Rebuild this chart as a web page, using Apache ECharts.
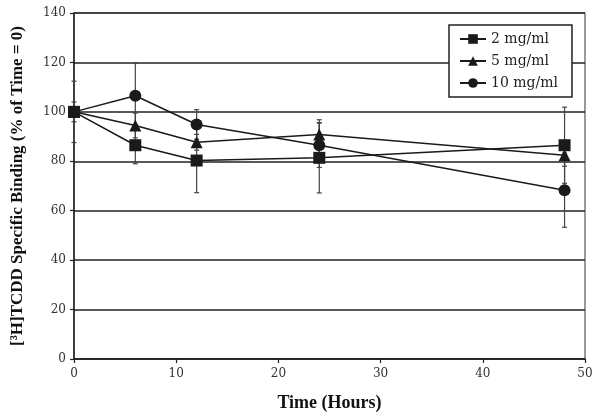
<!DOCTYPE html>
<html>
<head>
<meta charset="utf-8">
<script src="https://cdn.jsdelivr.net/npm/echarts@6/dist/echarts.min.js"></script>
<style>html,body{margin:0;padding:0;background:#fff}#c{width:600px;height:419px}</style>
</head>
<body>
<div id="c"></div>
<script>
var hours = [0, 6, 12, 24, 48];
var seriesNames = ['2 mg/ml', '5 mg/ml', '10 mg/ml'];
var val2 = [100, 86.5, 80.3, 81.4, 86.5];
var err2 = [0, 7.5, 13, 14.2, 15.4];
var val5 = [100, 94.5, 87.7, 90.8, 82.4];
var err5 = [4, 5, 3.2, 6, 4.4];
var val10 = [100, 106.5, 94.9, 86.5, 68.3];
var err10 = [12.4, 13.3, 6, 9, 15];
var yTicks = [0, 20, 40, 60, 80, 100, 120, 140];
var xTicks = [0, 10, 20, 30, 40, 50];

var vals = [val2, val5, val10];
var errs = [err2, err5, err10];
var symbols = ['rect', 'triangle', 'circle'];
var symSizes = [12, 12, 12];
var lineColor = '#1a1a1a';

function pts(v) { return hours.map(function (h, i) { return [h, v[i]]; }); }
function errData(v, e) { return hours.map(function (h, i) { return [h, v[i] - e[i], v[i] + e[i]]; }); }

var series = [];
for (var s = 0; s < 3; s++) {
  series.push({
    type: 'custom',
    name: seriesNames[s] + ' err',
    z: 1,
    silent: true,
    data: errData(vals[s], errs[s]),
    renderItem: function (params, api) {
      var x = api.value(0);
      var lo = api.coord([x, api.value(1)]);
      var hi = api.coord([x, api.value(2)]);
      var w = 2.5;
      var st = { stroke: '#444', lineWidth: 1.2 };
      return {
        type: 'group',
        children: [
          { type: 'line', shape: { x1: hi[0], y1: hi[1], x2: lo[0], y2: lo[1] }, style: st },
          { type: 'line', shape: { x1: hi[0] - w, y1: hi[1], x2: hi[0] + w, y2: hi[1] }, style: st },
          { type: 'line', shape: { x1: lo[0] - w, y1: lo[1], x2: lo[0] + w, y2: lo[1] }, style: st }
        ]
      };
    }
  });
}
for (var s2 = 0; s2 < 3; s2++) {
  series.push({
    type: 'line',
    name: seriesNames[s2],
    z: 3,
    data: pts(vals[s2]),
    symbol: symbols[s2],
    symbolSize: symSizes[s2],
    showAllSymbol: true,
    lineStyle: { color: lineColor, width: 1.5 },
    itemStyle: { color: lineColor, borderWidth: 0 },
    emphasis: { disabled: true },
    animation: false
  });
}

var chart = echarts.init(document.getElementById('c'), null, { renderer: 'canvas' });
chart.setOption({
  animation: false,
  backgroundColor: '#fff',
  grid: { left: 74, right: 15, top: 13, bottom: 60, show: true, borderColor: '#555', borderWidth: 1.2, backgroundColor: 'transparent' },
  legend: {
    data: seriesNames,
    orient: 'vertical',
    left: 449,
    top: 25,
    itemWidth: 26,
    itemHeight: 12,
    itemGap: 8,
    padding: [7, 14, 7, 10],
    backgroundColor: '#fff',
    borderColor: '#222',
    borderWidth: 1.5,
    borderRadius: 0,
    textStyle: { fontFamily: 'DejaVu Serif', fontSize: 14, color: '#222' }
  },
  xAxis: {
    type: 'value',
    min: xTicks[0],
    max: xTicks[xTicks.length - 1],
    interval: 10,
    name: 'Time (Hours)',
    nameLocation: 'middle',
    nameGap: 35,
    nameTextStyle: { fontFamily: 'Liberation Serif', fontWeight: 'bold', fontSize: 18, color: '#111' },
    axisLine: { lineStyle: { color: '#222', width: 1.5 } },
    axisTick: { show: true, length: 4, lineStyle: { color: '#222', width: 1.2 } },
    axisLabel: { fontFamily: 'DejaVu Serif', fontSize: 12, color: '#333', margin: 9 },
    splitLine: { show: false }
  },
  yAxis: {
    type: 'value',
    min: yTicks[0],
    max: yTicks[yTicks.length - 1],
    interval: 20,
    name: '[³H]TCDD Specific Binding (% of Time = 0)',
    nameLocation: 'middle',
    nameGap: 48,
    nameTextStyle: { fontFamily: 'Liberation Serif', fontWeight: 'bold', fontSize: 17, color: '#111' },
    axisLine: { show: true, lineStyle: { color: '#222', width: 1.5 } },
    axisTick: { show: true, length: 4, lineStyle: { color: '#222', width: 1.2 } },
    axisLabel: { fontFamily: 'DejaVu Serif', fontSize: 12, color: '#333', margin: 8 },
    splitLine: { show: true, lineStyle: { color: '#222', width: 1.5 } }
  },
  series: series
});
</script>
</body>
</html>
